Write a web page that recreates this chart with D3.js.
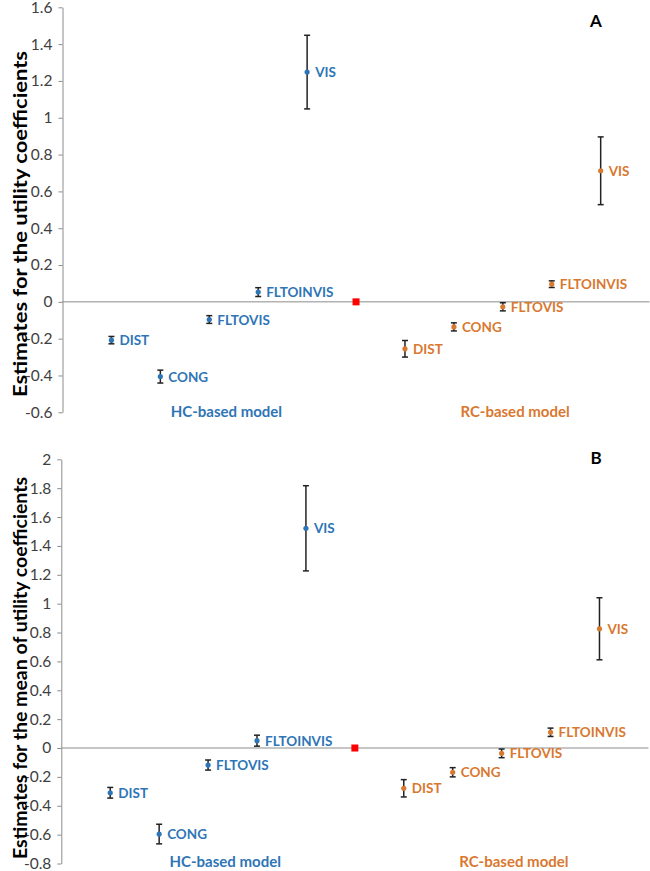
<!DOCTYPE html>
<html>
<head>
<meta charset="utf-8">
<script src="https://cdn.jsdelivr.net/npm/d3@7"></script>
<style>
  html, body { margin: 0; padding: 0; background: #fff; }
  svg { display: block; font-family: Lato, "Open Sans", sans-serif; }
</style>
</head>
<body>
<svg id="chart" width="650" height="871"></svg>
<script>
// ---- data ----
const categories = ["DIST", "CONG", "FLTOVIS", "FLTOINVIS", "VIS"];
const hcX = [1, 2, 3, 4, 5];
const rcX = [7, 8, 9, 10, 11];
const refX = [6];
const refY = [0];

// Panel A: estimates for the utility coefficients
const hcA = [-0.208, -0.406, -0.096, 0.053, 1.248];
const hcAerr = [0.020, 0.035, 0.021, 0.024, 0.200];
const rcA = [-0.255, -0.136, -0.027, 0.096, 0.712];
const rcAerr = [0.045, 0.022, 0.022, 0.018, 0.184];
const ticksA = [-0.6, -0.4, -0.2, 0, 0.2, 0.4, 0.6, 0.8, 1, 1.2, 1.4, 1.6];

// Panel B: estimates for the mean of utility coefficients
const hcB = [-0.310, -0.596, -0.118, 0.051, 1.522];
const hcBerr = [0.037, 0.068, 0.035, 0.038, 0.295];
const rcB = [-0.279, -0.168, -0.037, 0.109, 0.826];
const rcBerr = [0.060, 0.032, 0.030, 0.029, 0.215];
const ticksB = [-0.8, -0.6, -0.4, -0.2, 0, 0.2, 0.4, 0.6, 0.8, 1, 1.2, 1.4, 1.6, 1.8, 2];

const groupLabels = ["HC-based model", "RC-based model"];
const groupLabelX = [3.35, 9.25];

const BLUE = "#2E75B6";
const ORANGE = "#D9782F";

const svg = d3.select("#chart");

const panels = [
  { id: "A", hc: hcA, hcErr: hcAerr, rc: rcA, rcErr: rcAerr, ticks: ticksA,
    domain: [-0.6, 1.6], yRange: [412.3, 7.3], xRange: [62.5, 649.6],
    title: "Estimates for the utility coefficients", titleX: 19.5, titleY: 224, titleLen: 346,
    groupY: 411, letterY: 20 },
  { id: "B", hc: hcB, hcErr: hcBerr, rc: rcB, rcErr: rcBerr, ticks: ticksB,
    domain: [-0.8, 2], yRange: [863.5, 459.3], xRange: [61.3, 648.4],
    title: "Estimates for the mean of utility coefficients", titleX: 19.5, titleY: 668, titleLen: 382,
    groupY: 861, letterY: 457 }
];

const fmt = d => (Math.abs(d) < 1e-9 ? "0" : String(+d.toFixed(1)));

panels.forEach(p => {
  const g = svg.append("g");
  const x = d3.scaleLinear().domain([0, 12]).range(p.xRange);
  const y = d3.scaleLinear().domain(p.domain).range(p.yRange);

  // y axis
  const yAxis = d3.axisLeft(y).tickValues(p.ticks).tickFormat(fmt).tickSize(4).tickSizeOuter(0);
  const ya = g.append("g").attr("transform", `translate(${x(0)},0)`).call(yAxis);
  ya.select(".domain").attr("stroke", "#8c8c8c");
  ya.selectAll(".tick line").attr("stroke", "#8c8c8c");
  ya.selectAll(".tick text").attr("x", -10).attr("fill", "#404040")
    .style("font-size", "15.5px").style("font-family", "Lato, sans-serif");

  // horizontal zero line
  g.append("line")
    .attr("x1", x(0)).attr("x2", x(12))
    .attr("y1", y(0)).attr("y2", y(0))
    .attr("stroke", "#8c8c8c").attr("stroke-width", 1);

  // y title
  g.append("text")
    .attr("transform", `translate(${p.titleX},${p.titleY}) rotate(-90)`)
    .attr("text-anchor", "middle").attr("dominant-baseline", "central")
    .attr("font-weight", "bold").attr("font-size", 18).attr("fill", "#000")
    .attr("textLength", p.titleLen).attr("lengthAdjust", "spacingAndGlyphs")
    .text(p.title);

  // series
  const series = [
    { xs: hcX, vals: p.hc, errs: p.hcErr, color: BLUE },
    { xs: rcX, vals: p.rc, errs: p.rcErr, color: ORANGE }
  ];
  series.forEach(s => {
    const data = categories.map((c, i) => ({ c, xv: s.xs[i], v: s.vals[i], e: s.errs[i] }));
    const eg = g.append("g");
    // error bars
    eg.selectAll("line.bar").data(data).join("line")
      .attr("x1", d => x(d.xv)).attr("x2", d => x(d.xv))
      .attr("y1", d => y(d.v + d.e)).attr("y2", d => y(d.v - d.e))
      .attr("stroke", "#222").attr("stroke-width", 1.5);
    ["+", "-"].forEach(sign => {
      eg.selectAll(null).data(data).join("line")
        .attr("x1", d => x(d.xv) - 3).attr("x2", d => x(d.xv) + 3)
        .attr("y1", d => y(sign === "+" ? d.v + d.e : d.v - d.e))
        .attr("y2", d => y(sign === "+" ? d.v + d.e : d.v - d.e))
        .attr("stroke", "#222").attr("stroke-width", 1.5);
    });
    // points
    eg.selectAll("circle").data(data).join("circle")
      .attr("cx", d => x(d.xv)).attr("cy", d => y(d.v)).attr("r", 2.6)
      .attr("fill", s.color);
    // labels
    eg.selectAll("text").data(data).join("text")
      .attr("x", d => x(d.xv) + 8).attr("y", d => y(d.v))
      .attr("dominant-baseline", "central")
      .attr("font-weight", "bold").attr("font-size", 13.5).attr("fill", s.color)
      .text(d => d.c);
  });

  // reference red square
  g.selectAll("rect.ref").data(refX.map((xv, i) => ({ xv, v: refY[i] }))).join("rect")
    .attr("x", d => x(d.xv) - 3.5).attr("y", d => y(d.v) - 3.5)
    .attr("width", 7).attr("height", 7).attr("fill", "#FF0000");

  // group labels
  g.selectAll("text.grp").data(groupLabels).join("text")
    .attr("x", (d, i) => x(groupLabelX[i])).attr("y", p.groupY)
    .attr("text-anchor", "middle").attr("dominant-baseline", "central")
    .attr("font-weight", "bold").attr("font-size", 15)
    .attr("fill", (d, i) => i === 0 ? BLUE : ORANGE)
    .text(d => d);

  // panel letter
  g.append("text")
    .attr("x", 596).attr("y", p.letterY)
    .attr("text-anchor", "middle").attr("dominant-baseline", "central")
    .attr("font-weight", "bold").attr("font-size", 17).attr("fill", "#000")
    .text(p.id);
});
</script>
</body>
</html>
